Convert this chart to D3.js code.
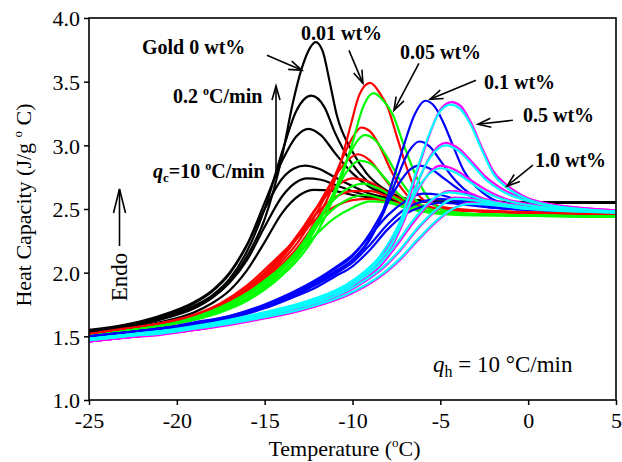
<!DOCTYPE html>
<html><head><meta charset="utf-8">
<script src="https://cdn.jsdelivr.net/npm/d3@7"></script>
<style>body{margin:0;background:#fff}svg{display:block}</style>
</head><body><svg id="c" width="622" height="462"></svg>
<script>
// ---------- data: [Temperature (°C), Heat capacity (J/g °C)] ----------
const xTicks = [-25, -20, -15, -10, -5, 0, 5];
const yTicks = [1.0, 1.5, 2.0, 2.5, 3.0, 3.5, 4.0];

// Gold 0 wt% (black)
const k1 = [[-25,1.53],[-23,1.57],[-21,1.63],[-19,1.73],[-18,1.81],[-17,1.93],[-16,2.13],[-15,2.42],[-14,2.92],[-13.4,3.33],[-12.9,3.60],[-12.4,3.77],[-12.1,3.81],[-11.7,3.74],[-11.3,3.50],[-10.9,3.24],[-10,2.95],[-9.2,2.78],[-8,2.64],[-6.5,2.57],[-4,2.55],[5,2.55]];
const k2 = [[-25,1.54],[-23,1.58],[-21,1.64],[-19,1.74],[-18,1.82],[-17,1.95],[-16,2.17],[-15,2.50],[-14,2.95],[-13.2,3.27],[-12.35,3.39],[-11.6,3.30],[-11,3.10],[-10,2.85],[-9,2.70],[-8,2.62],[-6.5,2.57],[-4,2.55],[5,2.55]];
const k3 = [[-25,1.54],[-23,1.58],[-21,1.65],[-19,1.76],[-18,1.85],[-17,1.99],[-16,2.22],[-15,2.55],[-14,2.88],[-13.2,3.07],[-12.5,3.13],[-11.8,3.08],[-11,2.94],[-10,2.78],[-9,2.67],[-8,2.61],[-6.5,2.57],[-4,2.55],[5,2.55]];
const k4 = [[-25,1.55],[-23,1.59],[-21,1.66],[-19,1.77],[-18,1.86],[-17,2.00],[-16,2.22],[-15,2.50],[-14,2.74],[-13.3,2.82],[-12.7,2.84],[-12,2.82],[-11,2.75],[-10,2.68],[-9,2.62],[-8,2.59],[-6,2.56],[-4,2.55],[5,2.55]];
const k5 = [[-25,1.53],[-23,1.57],[-21,1.63],[-19,1.72],[-18,1.80],[-17,1.92],[-16,2.10],[-15,2.36],[-14,2.60],[-13.2,2.71],[-12.6,2.74],[-11.8,2.73],[-11,2.69],[-10,2.64],[-9,2.60],[-8,2.58],[-6,2.56],[5,2.55]];
const k6 = [[-25,1.52],[-23,1.56],[-21,1.61],[-19,1.69],[-18,1.76],[-17,1.86],[-16,2.02],[-15,2.24],[-14,2.47],[-13,2.61],[-12.2,2.65],[-11,2.64],[-10,2.61],[-9,2.59],[-7,2.56],[5,2.55]];

// 0.01 wt% (red)
const r1 = [[-25,1.51],[-23,1.55],[-21,1.59],[-19,1.64],[-17.5,1.71],[-16,1.83],[-14.5,2.00],[-13,2.22],[-12,2.43],[-11.3,2.62],[-10.6,2.90],[-10.1,3.16],[-9.6,3.40],[-9.0,3.49],[-8.4,3.40],[-8.0,3.30],[-7.5,3.08],[-6.9,2.82],[-6.35,2.63],[-5.5,2.54],[-4,2.50],[-1,2.48],[5,2.46]];
const r2 = [[-25,1.51],[-23,1.55],[-21,1.59],[-19,1.65],[-17.5,1.72],[-16,1.84],[-14.5,2.02],[-13,2.26],[-12,2.48],[-11.2,2.70],[-10.5,2.92],[-10,3.06],[-9.5,3.14],[-9,3.11],[-8.4,2.98],[-7.8,2.80],[-7.2,2.66],[-6.5,2.56],[-5.5,2.51],[-4,2.49],[-1,2.47],[5,2.46]];
const r3 = [[-25,1.51],[-23,1.55],[-21,1.60],[-19,1.66],[-17.5,1.74],[-16,1.86],[-14.5,2.04],[-13,2.30],[-12,2.52],[-11.2,2.71],[-10.5,2.85],[-9.7,2.93],[-9.0,2.88],[-8.3,2.76],[-7.6,2.64],[-6.8,2.56],[-5.8,2.51],[-4,2.49],[5,2.46]];
const r4 = [[-25,1.52],[-23,1.56],[-21,1.60],[-19,1.66],[-17.5,1.74],[-16,1.87],[-14.5,2.06],[-13,2.32],[-12,2.52],[-11,2.67],[-10,2.74],[-9,2.71],[-8,2.63],[-7,2.56],[-6,2.52],[-4,2.49],[5,2.46]];
const r5 = [[-25,1.51],[-23,1.55],[-21,1.60],[-19,1.67],[-17.5,1.75],[-16,1.88],[-14.5,2.07],[-13,2.30],[-12,2.47],[-11,2.59],[-10,2.64],[-9,2.64],[-8,2.60],[-7,2.55],[-6,2.52],[-4,2.49],[5,2.46]];
const r6 = [[-25,1.51],[-23,1.55],[-21,1.60],[-19,1.67],[-17.5,1.76],[-16,1.90],[-14.5,2.09],[-13,2.29],[-12,2.43],[-11,2.52],[-10,2.57],[-9,2.58],[-8,2.56],[-6,2.52],[-4,2.49],[5,2.46]];

// 0.05 wt% (green)
const g1 = [[-25,1.50],[-23,1.54],[-21,1.58],[-19,1.63],[-17.5,1.69],[-16,1.78],[-14.5,1.92],[-13,2.12],[-12,2.32],[-11.2,2.55],[-10.5,2.80],[-10,3.02],[-9.4,3.30],[-8.8,3.41],[-8.3,3.36],[-7.7,3.24],[-7.1,3.01],[-6.35,2.75],[-5.6,2.57],[-4.8,2.49],[-3,2.46],[0,2.45],[5,2.44]];
const g2 = [[-25,1.50],[-23,1.54],[-21,1.58],[-19,1.63],[-17.5,1.70],[-16,1.79],[-14.5,1.94],[-13,2.15],[-12,2.37],[-11,2.65],[-10.2,2.92],[-9.3,3.08],[-8.7,3.04],[-8,2.90],[-7.3,2.73],[-6.6,2.60],[-5.8,2.51],[-4.5,2.47],[0,2.45],[5,2.44]];
const g3 = [[-25,1.50],[-23,1.54],[-21,1.58],[-19,1.64],[-17.5,1.71],[-16,1.80],[-14.5,1.96],[-13,2.18],[-12,2.40],[-11,2.63],[-10.3,2.80],[-9.6,2.88],[-9,2.86],[-8.2,2.75],[-7.4,2.62],[-6.5,2.53],[-5.5,2.48],[-3,2.46],[5,2.44]];
const g4 = [[-25,1.50],[-23,1.54],[-21,1.58],[-19,1.64],[-17.5,1.72],[-16,1.82],[-14.5,1.98],[-13,2.20],[-12,2.41],[-11,2.58],[-10,2.68],[-9.4,2.70],[-8.5,2.66],[-7.5,2.58],[-6.5,2.51],[-5,2.47],[5,2.44]];
const g5 = [[-25,1.50],[-23,1.54],[-21,1.58],[-19,1.64],[-17.5,1.72],[-16,1.83],[-14.5,1.99],[-13,2.19],[-12,2.37],[-11,2.51],[-10,2.59],[-9.3,2.61],[-8.3,2.58],[-7.3,2.53],[-6,2.48],[-4,2.46],[5,2.44]];
const g6 = [[-25,1.50],[-23,1.54],[-21,1.58],[-19,1.65],[-17.5,1.73],[-16,1.84],[-14.5,1.99],[-13,2.16],[-12,2.31],[-11,2.43],[-10,2.51],[-9,2.56],[-8,2.55],[-7,2.51],[-5.5,2.47],[-3,2.45],[5,2.44]];

// 0.1 wt% (blue)
const b1 = [[-25,1.50],[-23,1.53],[-21,1.56],[-19,1.60],[-17,1.65],[-15,1.73],[-13.5,1.82],[-12,1.93],[-11,2.01],[-10,2.10],[-9,2.26],[-8.25,2.49],[-7.67,2.74],[-7.1,2.99],[-6.5,3.23],[-5.85,3.35],[-5.3,3.30],[-4.8,3.17],[-4.26,2.99],[-3.7,2.81],[-2.94,2.67],[-2.2,2.59],[-1,2.53],[1,2.50],[5,2.48]];
const b2 = [[-25,1.50],[-23,1.53],[-21,1.56],[-19,1.60],[-17,1.65],[-15,1.73],[-13.5,1.82],[-12,1.92],[-11,2.00],[-10,2.10],[-9,2.27],[-8.2,2.48],[-7.5,2.73],[-6.8,2.95],[-6.2,3.03],[-5.6,2.99],[-5,2.88],[-4.3,2.75],[-3.5,2.64],[-2.5,2.57],[-1,2.52],[1,2.50],[5,2.48]];
const b3 = [[-25,1.50],[-23,1.53],[-21,1.56],[-19,1.60],[-17,1.66],[-15,1.74],[-13.5,1.83],[-12,1.94],[-11,2.03],[-10,2.13],[-9,2.31],[-8.2,2.50],[-7.4,2.69],[-6.8,2.80],[-6.2,2.84],[-5.5,2.81],[-4.7,2.73],[-3.8,2.64],[-3,2.58],[-2,2.54],[0,2.50],[5,2.48]];
const b4 = [[-25,1.50],[-23,1.53],[-21,1.56],[-19,1.61],[-17,1.66],[-15,1.75],[-13.5,1.84],[-12,1.95],[-11,2.04],[-10,2.14],[-9,2.29],[-8,2.45],[-7,2.56],[-6,2.62],[-5,2.61],[-4,2.57],[-3,2.54],[-1,2.50],[5,2.48]];
const b5 = [[-25,1.49],[-23,1.52],[-21,1.55],[-19,1.59],[-17,1.65],[-15,1.73],[-13.5,1.81],[-12,1.91],[-11,1.99],[-10,2.08],[-9,2.22],[-8,2.38],[-7,2.50],[-6,2.56],[-5,2.58],[-4,2.56],[-3,2.53],[-1,2.50],[5,2.48]];
const b6 = [[-25,1.49],[-23,1.52],[-21,1.55],[-19,1.59],[-17,1.64],[-15,1.72],[-13.5,1.80],[-12,1.89],[-11,1.97],[-10,2.05],[-9,2.18],[-8,2.34],[-7,2.46],[-6,2.52],[-5,2.55],[-4,2.54],[-2,2.51],[5,2.48]];

// 0.5 wt% (magenta)
const m1 = [[-25,1.46],[-23,1.49],[-21,1.52],[-19,1.55],[-17,1.60],[-15,1.66],[-13,1.73],[-11.5,1.80],[-10.3,1.88],[-9.3,1.98],[-8.5,2.08],[-7.7,2.22],[-7.3,2.36],[-6.73,2.61],[-6.16,2.86],[-5.6,3.09],[-5.0,3.28],[-4.35,3.34],[-3.85,3.31],[-3.3,3.19],[-2.56,2.96],[-2,2.80],[-1.23,2.69],[-0.1,2.59],[1.2,2.54],[3,2.51],[5,2.49]];
const m2 = [[-25,1.46],[-23,1.49],[-21,1.52],[-19,1.55],[-17,1.60],[-15,1.66],[-13,1.73],[-11.5,1.80],[-10.3,1.88],[-9.3,1.97],[-8.5,2.07],[-7.8,2.20],[-7.0,2.43],[-6.3,2.70],[-5.5,2.93],[-4.7,3.02],[-4.0,2.98],[-3.2,2.87],[-2.4,2.75],[-1.5,2.66],[-0.2,2.58],[1.5,2.53],[5,2.49]];
const m3 = [[-25,1.46],[-23,1.49],[-21,1.52],[-19,1.56],[-17,1.61],[-15,1.67],[-13,1.74],[-11.5,1.81],[-10.3,1.89],[-9.3,1.99],[-8.5,2.10],[-7.7,2.27],[-6.9,2.48],[-6.1,2.69],[-5.0,2.84],[-4.2,2.81],[-3.3,2.73],[-2.4,2.65],[-1.3,2.58],[0,2.54],[2,2.51],[5,2.49]];
const m4 = [[-25,1.46],[-23,1.49],[-21,1.52],[-19,1.56],[-17,1.60],[-15,1.66],[-13,1.73],[-11.5,1.80],[-10.3,1.87],[-9.3,1.95],[-8.5,2.04],[-7.5,2.21],[-6.5,2.40],[-5.5,2.56],[-4.5,2.64],[-3.5,2.63],[-2.5,2.58],[-1,2.54],[1,2.51],[5,2.49]];
const m5 = [[-25,1.46],[-23,1.49],[-21,1.52],[-19,1.55],[-17,1.60],[-15,1.65],[-13,1.72],[-11.5,1.78],[-10.3,1.85],[-9.3,1.93],[-8.3,2.03],[-7.3,2.17],[-6.3,2.34],[-5.3,2.48],[-4.2,2.59],[-3.2,2.58],[-2,2.55],[0,2.51],[5,2.49]];
const m6 = [[-25,1.46],[-23,1.49],[-21,1.51],[-19,1.55],[-17,1.59],[-15,1.64],[-13,1.70],[-11.5,1.76],[-10.3,1.82],[-9.3,1.89],[-8.3,1.98],[-7.3,2.10],[-6.3,2.25],[-5.3,2.39],[-4.3,2.50],[-3.3,2.55],[-2,2.54],[0,2.51],[5,2.48]];

// 1.0 wt% (cyan)
const c1 = [[-25,1.48],[-23,1.51],[-21,1.54],[-19,1.57],[-17,1.62],[-15,1.68],[-13,1.75],[-11.5,1.82],[-10.3,1.90],[-9.3,2.00],[-8.5,2.10],[-7.7,2.24],[-7.3,2.39],[-6.73,2.64],[-6.16,2.88],[-5.6,3.10],[-5.0,3.27],[-4.4,3.32],[-3.9,3.29],[-3.3,3.17],[-2.56,2.94],[-2,2.78],[-1.23,2.67],[-0.1,2.58],[1.2,2.53],[3,2.50],[5,2.48]];
const c2 = [[-25,1.48],[-23,1.51],[-21,1.54],[-19,1.57],[-17,1.62],[-15,1.68],[-13,1.75],[-11.5,1.82],[-10.3,1.90],[-9.3,1.99],[-8.5,2.09],[-7.8,2.22],[-7.0,2.45],[-6.3,2.71],[-5.5,2.92],[-4.7,3.00],[-4.0,2.96],[-3.2,2.85],[-2.4,2.73],[-1.5,2.64],[-0.2,2.57],[1.5,2.52],[5,2.48]];
const c3 = [[-25,1.48],[-23,1.51],[-21,1.54],[-19,1.58],[-17,1.63],[-15,1.69],[-13,1.76],[-11.5,1.83],[-10.3,1.91],[-9.3,2.01],[-8.5,2.12],[-7.7,2.29],[-6.9,2.50],[-6.1,2.70],[-5.0,2.82],[-4.2,2.79],[-3.3,2.71],[-2.4,2.63],[-1.3,2.57],[0,2.53],[2,2.50],[5,2.48]];
const c4 = [[-25,1.47],[-23,1.50],[-21,1.53],[-19,1.57],[-17,1.61],[-15,1.67],[-13,1.74],[-11.5,1.81],[-10.3,1.88],[-9.3,1.97],[-8.5,2.06],[-7.5,2.23],[-6.5,2.42],[-5.5,2.57],[-4.5,2.63],[-3.5,2.61],[-2.5,2.57],[-1,2.53],[1,2.50],[5,2.48]];
const c5 = [[-25,1.47],[-23,1.50],[-21,1.53],[-19,1.56],[-17,1.61],[-15,1.66],[-13,1.73],[-11.5,1.79],[-10.3,1.86],[-9.3,1.94],[-8.3,2.04],[-7.3,2.18],[-6.3,2.35],[-5.3,2.49],[-4.2,2.58],[-3.2,2.57],[-2,2.54],[0,2.50],[5,2.48]];
const c6 = [[-25,1.47],[-23,1.50],[-21,1.52],[-19,1.56],[-17,1.60],[-15,1.65],[-13,1.71],[-11.5,1.77],[-10.3,1.83],[-9.3,1.90],[-8.3,1.99],[-7.3,2.11],[-6.3,2.26],[-5.3,2.40],[-4.3,2.50],[-3.3,2.54],[-2,2.53],[0,2.50],[5,2.47]];

const groups = [
  {name: "Gold 0 wt%", color: "#000000", curves: [k1, k2, k3, k4, k5, k6]},
  {name: "0.01 wt%",   color: "#ff0000", curves: [r1, r2, r3, r4, r5, r6]},
  {name: "0.05 wt%",   color: "#00ff00", curves: [g1, g2, g3, g4, g5, g6]},
  {name: "0.1 wt%",    color: "#0000ff", curves: [b1, b2, b3, b4, b5, b6]},
  {name: "0.5 wt%",    color: "#ff00ff", curves: [m1, m2, m3, m4, m5, m6]},
  {name: "1.0 wt%",    color: "#00ffff", curves: [c1, c2, c3, c4, c5, c6]}
];

// ---------- layout ----------
const L = 89, R = 616, T = 18, B = 400;
const serif = "'Liberation Serif','Times New Roman',Times,serif";
const svg = d3.select("#c");
const x = d3.scaleLinear().domain([-25, 5]).range([L, R]);
const y = d3.scaleLinear().domain([1, 4]).range([B, T]);

const line = d3.line().x(d => x(d[0])).y(d => y(d[1])).curve(d3.curveMonotoneX);

// curves
const gc = svg.append("g").attr("fill", "none").attr("stroke-width", 2.2).attr("stroke-linejoin", "round");
groups.forEach(g => {
  g.curves.forEach(c => {
    gc.append("path").attr("d", line(c)).attr("stroke", g.color);
  });
});

// axes
const xAxis = d3.axisBottom(x).tickValues(xTicks).tickSize(5).tickPadding(7).tickFormat(d3.format("d"));
const yAxis = d3.axisLeft(y).tickValues(yTicks).tickSize(5).tickPadding(4).tickFormat(d3.format(".1f"));
const gx = svg.append("g").attr("transform", `translate(0,${B})`).call(xAxis);
const gy = svg.append("g").attr("transform", `translate(${L},0)`).call(yAxis);
[gx, gy].forEach(g => {
  g.select(".domain").remove();
  g.selectAll(".tick line").attr("stroke", "#000").attr("stroke-width", 1.5);
  g.selectAll(".tick text").attr("fill", "#000").style("font-family", serif).style("font-size", "22px");
});
gx.selectAll(".tick text").text(d => d < 0 ? "-" + Math.abs(d) : d);
gy.selectAll(".tick text").attr("dy", "0.36em");

// frame
svg.append("rect").attr("x", L).attr("y", T).attr("width", R - L).attr("height", B - T)
  .attr("fill", "none").attr("stroke", "#000").attr("stroke-width", 1.6);

// axis titles
const xt = svg.append("text").attr("x", (L + R) / 2 - 8).attr("y", 456).attr("text-anchor", "middle")
  .style("font-family", serif).style("font-size", "22px");
xt.append("tspan").text("Temperature (");
xt.append("tspan").attr("dy", -9).style("font-size", "13px").text("o");
xt.append("tspan").attr("dy", 9).text("C)");

const yt = svg.append("text").attr("transform", "translate(31,205) rotate(-90)").attr("text-anchor", "middle")
  .style("font-family", serif).style("font-size", "22px");
yt.append("tspan").text("Heat Capacity (J/g ");
yt.append("tspan").attr("dy", -9).style("font-size", "13px").text("o");
yt.append("tspan").attr("dy", 9).text(" C)");

// ---------- annotations ----------
function arrow(x1, y1, x2, y2, len, half) {
  const a = Math.atan2(y2 - y1, x2 - x1);
  const g = svg.append("g").attr("stroke", "#000").attr("stroke-width", 1.6).attr("fill", "none");
  g.append("line").attr("x1", x1).attr("y1", y1).attr("x2", x2).attr("y2", y2);
  const p = (s) => [x2 - len * Math.cos(a) + s * half * Math.sin(a), y2 - len * Math.sin(a) - s * half * Math.cos(a)];
  const A = p(1), Bp = p(-1);
  g.append("path").attr("d", `M${A[0]},${A[1]}L${x2},${y2}L${Bp[0]},${Bp[1]}`);
}

const labelArrows = [
  {from: [-14.87, 3.707], to: [-12.88, 3.589]},
  {from: [-10.20, 3.746], to: [-9.41, 3.487]},
  {from: [-6.22, 3.644], to: [-7.64, 3.275]},
  {from: [-2.97, 3.511], to: [-5.59, 3.362]},
  {from: [-0.87, 3.197], to: [-2.86, 3.166]},
  {from: [0.27, 2.844], to: [-1.21, 2.679]}
];
labelArrows.forEach(a => arrow(x(a.from[0]), y(a.from[1]), x(a.to[0]), y(a.to[1]), 13, 4.5));

const labelPos = [[142, 54], [301, 40], [400, 59], [484, 89], [523, 122], [535, 167]];
groups.forEach((g, i) => {
  svg.append("text").attr("x", labelPos[i][0]).attr("y", labelPos[i][1])
    .style("font-family", serif).style("font-size", "20px").style("font-weight", "bold")
    .text(g.name);
});

// cooling-rate labels
const t1 = svg.append("text").attr("x", 173).attr("y", 103)
  .style("font-family", serif).style("font-size", "20px").style("font-weight", "bold");
t1.append("tspan").text("0.2 ");
t1.append("tspan").attr("dy", -8).style("font-size", "12px").text("o");
t1.append("tspan").attr("dy", 8).text("C/min");

const t2 = svg.append("text").attr("x", 153).attr("y", 178)
  .style("font-family", serif).style("font-size", "20px").style("font-weight", "bold");
t2.append("tspan").style("font-style", "italic").text("q");
t2.append("tspan").attr("dy", 4).style("font-size", "13px").text("c");
t2.append("tspan").attr("dy", -4).text("=10 ");
t2.append("tspan").attr("dy", -8).style("font-size", "12px").text("o");
t2.append("tspan").attr("dy", 8).text("C/min");

arrow(276, 174, 276, 86, 14, 4);

// Endo
svg.append("text").attr("transform", "translate(127,277) rotate(-90)").attr("text-anchor", "middle")
  .style("font-family", serif).style("font-size", "23px").text("Endo");
arrow(119.5, 246, 119.5, 189, 24, 6);

// q_h label
const t3 = svg.append("text").attr("x", 433).attr("y", 372)
  .style("font-family", serif).style("font-size", "23px");
t3.append("tspan").style("font-style", "italic").text("q");
t3.append("tspan").attr("dy", 5).style("font-size", "16px").text("h");
t3.append("tspan").attr("dy", -5).text(" = 10 \u00B0C/min");
</script>
</body></html>
